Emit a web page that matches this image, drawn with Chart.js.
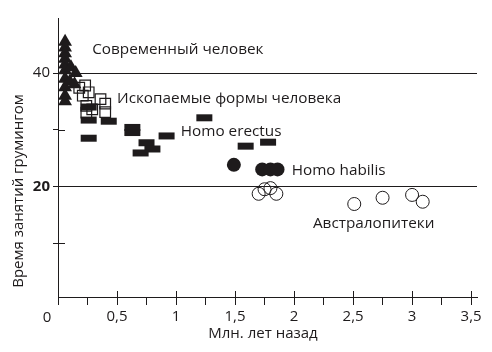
<!DOCTYPE html>
<html>
<head>
<meta charset="utf-8">
<script src="https://cdn.jsdelivr.net/npm/chart.js@4/dist/chart.umd.min.js"></script>
<style>
  html, body { margin: 0; padding: 0; background: #fff; }
</style>
</head>
<body>
<canvas id="chart" width="492" height="352"></canvas>
<script>
// оси
const xTicks = [0, 0.25, 0.5, 0.75, 1, 1.25, 1.5, 1.75, 2, 2.25, 2.5, 2.75, 3, 3.25, 3.5];
const yTicks = [10, 20, 30, 40];
const yLabeled = [20, 40];

// Современный человек
const modernX = [0.06, 0.06, 0.06, 0.06, 0.06, 0.06, 0.06, 0.06, 0.06, 0.06, 0.11, 0.1, 0.15, 0.14];
const modernY = [45.5, 44.5, 43.5, 42.5, 41.5, 40.5, 39.0, 37.5, 36.0, 35.0, 41.0, 38.5, 40.0, 38.0];

// Ископаемые формы человека
const fossilX = [0.18, 0.23, 0.26, 0.21, 0.36, 0.40, 0.40, 0.24, 0.29, 0.24];
const fossilY = [37.4, 37.8, 36.6, 36.0, 35.4, 34.6, 33.1, 34.2, 33.6, 33.0];

// Homo erectus
const erectusX = [0.26, 0.26, 0.43, 0.26, 0.63, 0.63, 0.92, 0.75, 0.80, 0.70, 1.24, 1.59, 1.78];
const erectusY = [34.0, 31.7, 31.5, 28.5, 30.4, 29.5, 28.9, 27.7, 26.6, 25.9, 32.1, 27.1, 27.8];

// Homo habilis
const habilisX = [1.49, 1.73, 1.80, 1.86];
const habilisY = [23.8, 23.0, 23.0, 23.0];

// Австралопитеки
const australX = [1.70, 1.75, 1.80, 1.85, 2.51, 2.75, 3.00, 3.09];
const australY = [18.7, 19.5, 19.7, 18.7, 16.9, 18.0, 18.5, 17.3];

// подписи групп (x, y - левый край и базовая линия в единицах осей)
const notes = [
  { text: 'Современный человек', x: 0.29, y: 43.4 },
  { text: 'Ископаемые формы человека', x: 0.50, y: 34.7 },
  { text: 'Homo erectus', x: 1.04, y: 28.9 },
  { text: 'Homo habilis', x: 1.98, y: 22.0 },
  { text: 'Австралопитеки', x: 2.16, y: 12.7 }
];

const ink = '#1e1b1c';
const fontFamily = '"Open Sans", "Noto Sans", sans-serif';

const toPoints = (xs, ys) => xs.map((x, i) => ({ x: x, y: ys[i] }));

const extras = {
  id: 'extras',
  afterDraw(chart) {
    const { ctx, scales: { x, y }, chartArea } = chart;
    ctx.save();
    ctx.strokeStyle = ink;
    ctx.lineWidth = 1;
    ctx.beginPath();
    // внутренняя часть делений
    xTicks.forEach(v => {
      if (v === 0 || (v * 2) % 1 !== 0) return;
      const px = Math.round(x.getPixelForValue(v)) + 0.5;
      ctx.moveTo(px, chartArea.bottom);
      ctx.lineTo(px, chartArea.bottom - 6);
    });
    [10, 30].forEach(v => {
      const py = Math.round(y.getPixelForValue(v)) + 0.5;
      ctx.moveTo(chartArea.left, py);
      ctx.lineTo(chartArea.left + 7, py);
    });
    ctx.stroke();

    ctx.fillStyle = ink;
    ctx.font = '15.3px ' + fontFamily;
    ctx.textBaseline = 'alphabetic';
    ctx.textAlign = 'left';
    notes.forEach(n => {
      ctx.fillText(n.text, x.getPixelForValue(n.x), y.getPixelForValue(n.y));
    });

    // ноль в углу
    ctx.font = '15px ' + fontFamily;
    ctx.textAlign = 'center';
    ctx.fillText('0', x.getPixelForValue(0) - 11, chartArea.bottom + 25);

    // названия осей
    ctx.fillText('Млн. лет назад', 263, 338);
    ctx.translate(23, 191);
    ctx.rotate(-Math.PI / 2);
    ctx.fillText('Время занятий грумингом', 0, 0);
    ctx.restore();
  }
};

new Chart(document.getElementById('chart'), {
  type: 'scatter',
  data: {
    datasets: [
      {
        label: 'Современный человек',
        data: toPoints(modernX, modernY),
        pointStyle: 'triangle',
        pointRadius: 8,
        backgroundColor: ink,
        borderColor: ink,
        borderWidth: 0
      },
      {
        label: 'Ископаемые формы человека',
        data: toPoints(fossilX, fossilY),
        pointStyle: 'rect',
        pointRadius: 7.5,
        backgroundColor: 'rgba(0,0,0,0)',
        borderColor: ink,
        borderWidth: 1.2
      },
      {
        label: 'Homo erectus',
        data: toPoints(erectusX, erectusY),
        pointStyle: 'line',
        pointRadius: 8,
        borderColor: ink,
        borderWidth: 7
      },
      {
        label: 'Homo habilis',
        data: toPoints(habilisX, habilisY),
        pointStyle: 'circle',
        pointRadius: 7,
        backgroundColor: ink,
        borderColor: ink,
        borderWidth: 0
      },
      {
        label: 'Австралопитеки',
        data: toPoints(australX, australY),
        pointStyle: 'circle',
        pointRadius: 6.5,
        backgroundColor: 'rgba(0,0,0,0)',
        borderColor: ink,
        borderWidth: 1
      }
    ]
  },
  options: {
    responsive: false,
    animation: false,
    layout: { padding: { left: 0, right: 9, top: 18, bottom: 0 } },
    plugins: {
      legend: { display: false },
      tooltip: { enabled: false }
    },
    scales: {
      x: {
        type: 'linear',
        min: 0,
        max: 3.55,
        afterBuildTicks: s => { s.ticks = xTicks.map(v => ({ value: v })); },
        afterFit: s => { s.height = 55; },
        grid: { drawOnChartArea: false, color: ink, tickColor: ink, tickLength: 8 },
        border: { color: ink, width: 1 },
        ticks: {
          autoSkip: false,
          maxRotation: 0,
          padding: 3,
          color: ink,
          font: { family: fontFamily, size: 15 },
          callback: v => (v === 0 || (v * 2) % 1 !== 0) ? '' : String(v).replace('.', ',')
        }
      },
      y: {
        type: 'linear',
        min: 0.5,
        max: 49.7,
        afterBuildTicks: s => { s.ticks = yTicks.map(v => ({ value: v })); },
        afterFit: s => { s.width = 58; },
        grid: {
          color: c => yLabeled.includes(c.tick && c.tick.value) ? ink : 'rgba(0,0,0,0)',
          tickColor: ink,
          tickLength: 5
        },
        border: { color: ink, width: 1 },
        ticks: {
          padding: 3,
          color: ink,
          font: c => ({ family: fontFamily, size: 15, weight: c.tick && c.tick.value === 20 ? 'bold' : 'normal' }),
          callback: v => yLabeled.includes(v) ? String(v) : ''
        }
      }
    }
  },
  plugins: [extras]
});
</script>
</body>
</html>
